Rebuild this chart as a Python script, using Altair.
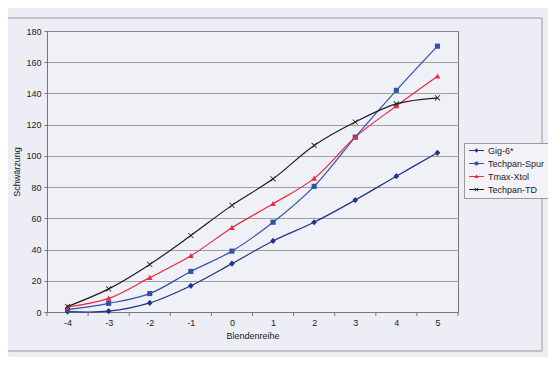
import altair as alt
import pandas as pd

stops = [-4, -3, -2, -1, 0, 1, 2, 3, 4, 5]
series = ["Gig-6*", "Techpan-Spur", "Tmax-Xtol", "Techpan-TD"]
gig = [0.3, 0.5, 5.8, 16.8, 31, 45.5, 57.5, 71.7, 87, 102]
spur = [1.5, 5.5, 11.8, 26, 39, 57.5, 80.5, 112, 142, 170.3]
tmax = [3.2, 8.7, 22, 36, 54, 69.3, 85.6, 112, 132, 151]
td = [3.5, 14.8, 30.5, 49, 68.3, 85.3, 106.7, 121.7, 133.3, 137.2]
colors = ["#1d3587", "#2f52ab", "#ec2a40", "#1e1e1e"]

# marker outlines (unit square -1..1)
m_diamond = "M0,-1.1L1,0L0,1.1L-1,0Z"
m_square = "M-0.9,-0.9H0.9V0.9H-0.9Z"
m_triangle = "M0,-1L1,0.8H-1Z"
m_x = ("M-1,-0.8L-0.8,-1L0,-0.2L0.8,-1L1,-0.8L0.2,0L1,0.8L0.8,1L0,0.2"
       "L-0.8,1L-1,0.8L-0.2,0Z")
markers = [m_diamond, m_square, m_triangle, m_x]
# legend symbols: a short line through the marker
seg = "M-3.7,-0.22H3.7V0.22H-3.7Z"
legend_markers = [seg + m for m in markers]
tick_pos = [s - 0.5 for s in stops] + [stops[-1] + 0.5]

rows = []
for name, vals in zip(series, [gig, spur, tmax, td]):
    for s, v in zip(stops, vals):
        rows.append({"Blendenreihe": s, "Schwärzung": v, "Serie": name})
df = pd.DataFrame(rows)

W, H = 411, 281
FONT = "Liberation Sans"

xscale = alt.Scale(domain=[-4.5, 5.5], nice=False, zero=False)
yscale = alt.Scale(domain=[0, 180], nice=False)
cscale = alt.Scale(domain=series, range=colors)

xaxis = alt.Axis(values=stops, ticks=False, grid=False, labelPadding=6,
                 titlePadding=4, domainColor="#777", labelColor="#222",
                 titleColor="#222", labelExpr="'' + datum.value")
yaxis = alt.Axis(values=list(range(0, 181, 20)), tickSize=3, tickColor="#777",
                 domainColor="#777", gridColor="#8a8a8a", gridWidth=0.8,
                 labelPadding=3, titleX=-26, titleY=H / 2, titleAngle=-90,
                 labelColor="#222", titleColor="#222", labelOverlap=False)
legend = alt.Legend(title=None, orient="none", legendX=417, legendY=112,
                    fillColor="#f2f2f8", strokeColor="#999",
                    padding=3, labelFont=FONT, labelFontSize=9,
                    labelColor="#222", symbolSize=16, symbolOffset=5,
                    labelOffset=7, rowPadding=3, symbolStrokeWidth=0)

x = alt.X("Blendenreihe:Q", scale=xscale, title="Blendenreihe", axis=xaxis)
y = alt.Y("Schwärzung:Q", scale=yscale, title="Schwärzung", axis=yaxis)

base = alt.Chart(df)

lines = base.mark_line(interpolate="catmull-rom", strokeWidth=1.2).encode(
    x=x, y=y, color=alt.Color("Serie:N", scale=cscale, legend=None), detail="Serie:N",
)

points = base.mark_point(filled=True, opacity=1, size=32).encode(
    x=x, y=y, color=alt.Color("Serie:N", scale=cscale, legend=None),
    shape=alt.Shape("Serie:N", scale=alt.Scale(domain=series, range=markers), legend=None),
)

legend_layer = base.transform_filter("false").mark_point(
    filled=True, opacity=1, size=16).encode(
    x=x, y=y, color=alt.Color("Serie:N", scale=cscale, legend=legend),
    shape=alt.Shape("Serie:N", scale=alt.Scale(domain=series, range=legend_markers),
                    legend=legend),
)

ticks = alt.Chart(pd.DataFrame({"t": tick_pos})).mark_rule(color="#777").encode(
    x=alt.X("t:Q", scale=xscale, axis=xaxis, title="Blendenreihe"),
    y=alt.value(H), y2=alt.value(H + 4),
)

frame = alt.Chart(pd.DataFrame({"a": [0]})).mark_rect(
    fill=None, stroke="#9a9a9a", strokeWidth=1).encode(
    x=alt.value(-43), x2=alt.value(495), y=alt.value(-13), y2=alt.value(320),
)

chart = alt.layer(frame, ticks, lines, points, legend_layer).resolve_scale(
    shape="independent", color="independent"
).properties(
    width=W, height=H,
    autosize=alt.AutoSizeParams(type="none"),
    padding={"left": 39, "top": 23, "right": 90, "bottom": 45},
).configure(
    background="#ededf5",
    font=FONT,
).configure_view(
    stroke="#777", strokeWidth=1, fill="#f0f0f7",
).configure_axis(
    labelFont=FONT, titleFont=FONT, labelFontSize=9, titleFontSize=9,
    titleFontWeight="normal",
)

chart.save("out.html", embed_options={"renderer": "svg", "actions": False})
